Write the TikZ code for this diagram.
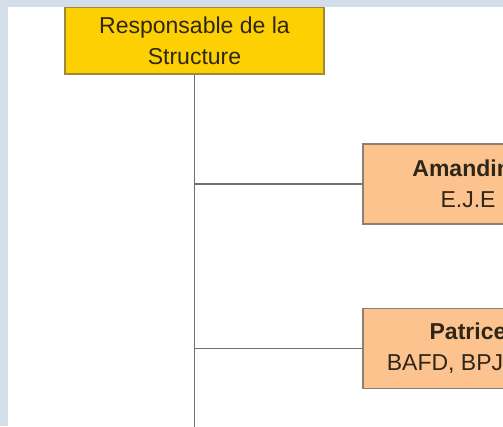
\documentclass[tikz,border=0pt]{standalone}
\usepackage{fontspec}
\setmainfont{Liberation Sans}
\definecolor{bgblue}{HTML}{D3DEEA}
\definecolor{ybox}{HTML}{FDD003}
\definecolor{yborder}{HTML}{9C8A3A}
\definecolor{obox}{HTML}{FDC38F}
\definecolor{oborder}{HTML}{8C7F74}
\definecolor{linegray}{HTML}{707070}
\definecolor{txt}{HTML}{2E2618}
\begin{document}
\begin{tikzpicture}[x=1pt,y=-1pt,
  topbox/.style={draw=yborder, line width=1.2pt, fill=ybox, minimum width=259pt, minimum height=67pt, inner sep=0pt, align=center, font=\fontsize{23}{31}\selectfont, text=txt},
  personbox/.style={draw=oborder, line width=1.2pt, fill=obox, minimum width=210pt, minimum height=80pt, inner sep=0pt, align=center, font=\fontsize{23}{31}\selectfont, text=txt},
  link/.style={draw=linegray, line width=1.5pt}]
\useasboundingbox (0,0) rectangle (503,426);
\fill[bgblue] (0,0) rectangle (503,426);
\fill[white] (8,7) rectangle (503,426);
\begin{scope}
\clip (8,7) rectangle (503,426);
\node[topbox] (resp) at (194.5,40.5) {Responsable de la\\Structure};
\node[personbox] (amandine) at (468,184) {\textbf{Amandine}\\E.J.E};
\node[personbox] (patrice) at (468,348.5) {\textbf{Patrice}\\BAFD, BPJEPS};
\coordinate (bottom) at (194.5,430);
\coordinate (j1) at (194.5,184);
\coordinate (j2) at (194.5,348.5);
\draw[link] (resp.south) -- (bottom);
\draw[link] (j1) -- (amandine.west);
\draw[link] (j2) -- (patrice.west);
\end{scope}
\end{tikzpicture}
\end{document}
